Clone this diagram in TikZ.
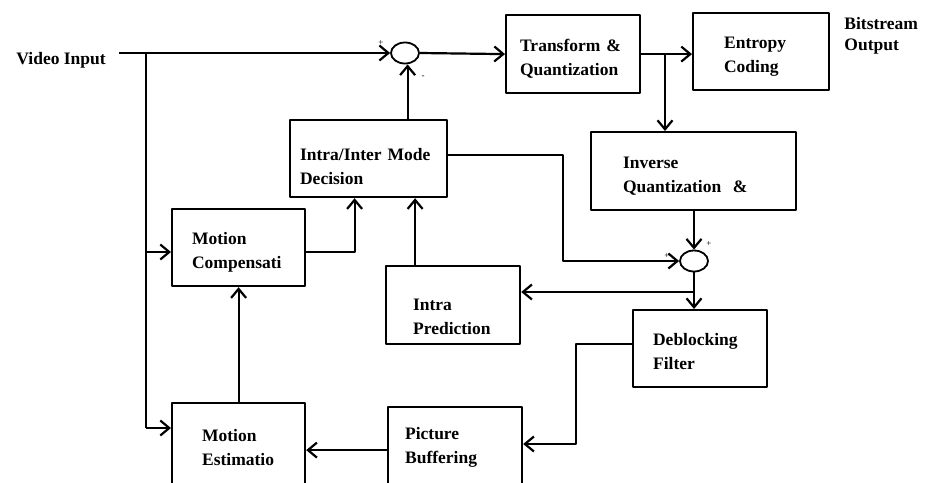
\documentclass[tikz,border=0pt]{standalone}
\usepackage{fontspec}
\setmainfont{Liberation Serif}
\usetikzlibrary{arrows.meta,shapes.geometric}
\begin{document}
\begin{tikzpicture}[x=1pt,y=-1pt,line join=round,line width=2.2pt,
	>={Straight Barb[length=9pt,width=15pt]},
	blk/.style={draw,anchor=north west,align=left,inner ysep=0pt,text height=22pt,
		font=\fontsize{17.5}{24}\selectfont\bfseries},
	txt/.style={align=left,font=\fontsize{17.5}{21}\selectfont\bfseries},
	sgn/.style={inner sep=0pt,font=\fontsize{9}{9}\selectfont},
	sum/.style={draw,ellipse,line width=1.8pt,minimum width=28pt,minimum height=21pt,inner sep=0pt}]
	\useasboundingbox (0,0) rectangle (931,482);
	\node[txt,anchor=west] (vin) at (12,60) {Video Input};
	\node[sum] (s1) at (405,53) {};
	\node[sgn] (p1) at (381,43) {+};
	\node[sgn] (m1) at (423,77) {-};
	\node[blk,text width=106pt,inner xsep=14pt,minimum height=78pt] (tq) at (505,14) {Transform \&\\Quantization};
	\node[blk,text width=74pt,inner xsep=31pt,minimum height=77pt] (ent) at (692,12) {Entropy\\Coding};
	\node[txt,anchor=west] (bso) at (840,36) {Bitstream\\Output};
	\node[blk,text width=141pt,inner xsep=32pt,minimum height=78pt] (iq) at (590,131) {Inverse\\Quantization\ \ \&};
	\node[sum] (s2) at (694,261) {};
	\node[sgn] (p2) at (709,244) {+};
	\node[sgn] (p3) at (667,256) {+};
	\node[blk,text width=137pt,inner xsep=10pt,minimum height=77pt,text height=27pt] (md) at (289,119) {Intra/Inter\ Mode\\Decision};
	\node[blk,text width=93pt,inner xsep=20pt,minimum height=77pt] (mc) at (171,208) {Motion\\Compensati};
	\node[blk,text width=80pt,inner xsep=27pt,minimum height=78pt,text height=34pt] (ip) at (385,265) {Intra\\Prediction};
	\node[blk,text width=94pt,inner xsep=20pt,minimum height=77pt,text height=18pt] (df) at (632,309) {Deblocking\\Filter};
	\node[blk,text width=73pt,inner xsep=30pt,minimum height=88pt,text height=12pt] (me) at (171,402) {Motion\\Estimatio};
	\node[blk,text width=100pt,inner xsep=17pt,minimum height=80pt,text height=12pt] (pb) at (387,406) {Picture\\Buffering};
	\coordinate (in) at (119,53);
	\coordinate (j1) at (146,53);
	\coordinate (j2) at (146,252);
	\coordinate (j3) at (146,428);
	\coordinate (b1) at (665,53);
	\coordinate (b2) at (694,292);
	\coordinate (c1) at (563,261);
	\coordinate (c2) at (576,444);
	\draw[->] (in) -- (s1.west);
	\draw (j1) -- (j3);
	\draw[->] (j2) -- (j2 -| mc.west);
	\draw[->] (j3) -- (j3 -| me.west);
	\draw[->] (s1.east) -- (tq.west);
	\draw[->] (tq.east) -- (tq.east -| ent.west);
	\draw[->] (b1) -- (b1 |- iq.north);
	\draw[->] (s2 |- iq.south) -- (s2.north);
	\draw[->] ([xshift=39pt]md.north) -- ([xshift=39pt]md.north |- s1.south);
	\draw[->] ([yshift=4pt]md.east) -| (c1) -- (s2.west);
	\draw[->] (s2.south) -- (s2.south |- df.north);
	\draw[->] (b2) -- (b2 -| ip.east);
	\draw[->] ([xshift=-38pt]ip.north) -- ([xshift=-38pt]ip.north |- md.south);
	\draw[->] ([yshift=-4pt]mc.east) -| ([xshift=-14pt]md.south);
	\draw[->] (me.north) -- (mc.south);
	\draw[->] ([yshift=-3pt]pb.west) -- ([yshift=-3pt]pb.west -| me.east);
	\draw[->] ([yshift=4.5pt]df.west) -| (c2) -- (c2 -| pb.east);
\end{tikzpicture}
\end{document}
